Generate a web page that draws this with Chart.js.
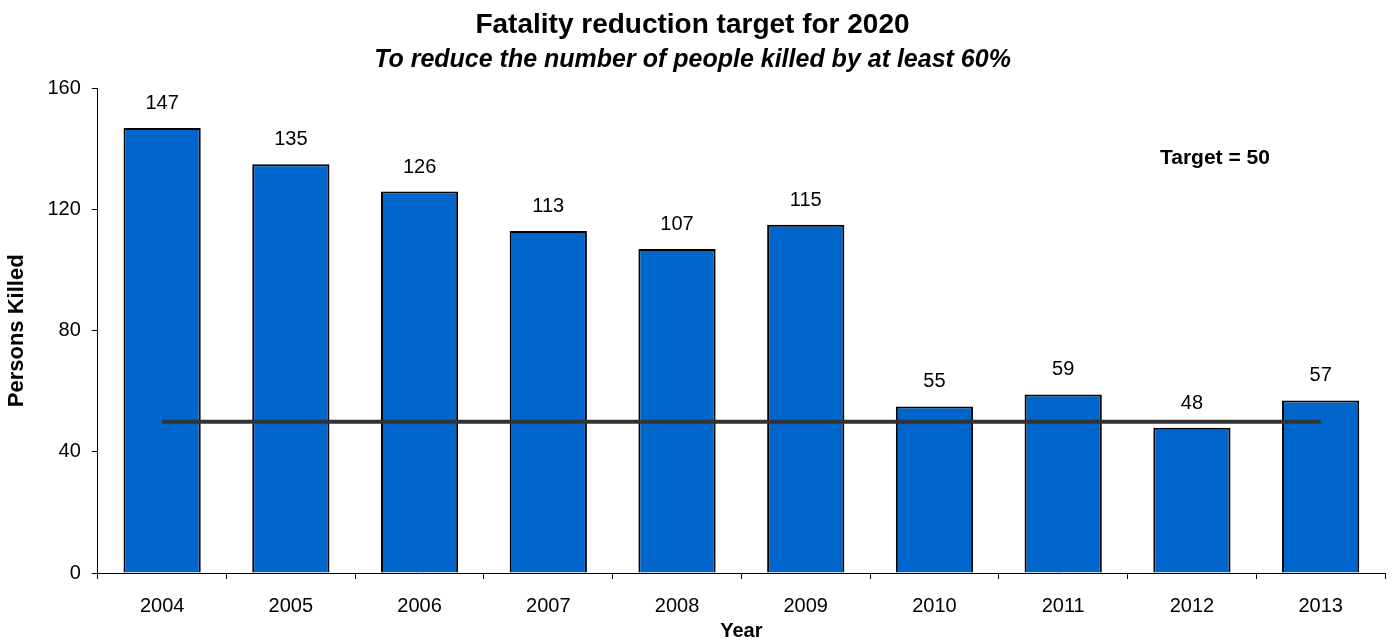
<!DOCTYPE html>
<html lang="en">
<head>
    <meta charset="UTF-8">
    <title>Fatality reduction target for 2020</title>
    <script src="https://cdn.jsdelivr.net/npm/chart.js"></script>
    <style>
        body {
            margin: 0;
            padding: 0;
            background: #ffffff;
            overflow: hidden;
        }
    </style>
</head>
<body>
    <canvas id="fatalityChart" width="1392" height="644"></canvas>

    <script>
        // Persons killed per year, and the 2020 target
        const years = ["2004", "2005", "2006", "2007", "2008", "2009", "2010", "2011", "2012", "2013"];
        const personsKilled = [147, 135, 126, 113, 107, 115, 55, 59, 48, 57];
        const targetValue = 50;
        const targetLine = years.map(() => targetValue);
        const yTicks = [0, 40, 80, 120, 160];

        const fontFamily = "'Liberation Sans', Arial, sans-serif";

        // Value labels above each bar
        const barLabels = {
            id: "barLabels",
            afterDatasetsDraw(chart) {
                const ctx = chart.ctx;
                const meta = chart.getDatasetMeta(0);
                ctx.save();
                ctx.font = "20px " + fontFamily;
                ctx.fillStyle = "#000";
                ctx.textAlign = "center";
                ctx.textBaseline = "alphabetic";
                meta.data.forEach((bar, i) => {
                    ctx.fillText(personsKilled[i], bar.x, bar.y - 19);
                });
                ctx.restore();
            }
        };

        // "Target = 50" note in the upper right
        const targetNote = {
            id: "targetNote",
            afterDraw(chart) {
                const ctx = chart.ctx;
                const x = chart.scales.x.getPixelForValue(8) + 23;
                const y = chart.scales.y.getPixelForValue(137);
                ctx.save();
                ctx.font = "bold 21px " + fontFamily;
                ctx.fillStyle = "#000";
                ctx.textAlign = "center";
                ctx.textBaseline = "middle";
                ctx.fillText("Target = " + targetValue, x, y);
                ctx.restore();
            }
        };

        const ctx = document.getElementById("fatalityChart").getContext("2d");
        new Chart(ctx, {
            type: "bar",
            data: {
                labels: years,
                datasets: [
                    {
                        type: "bar",
                        label: "Persons Killed",
                        data: personsKilled,
                        backgroundColor: "#0066CC",
                        borderColor: "#000",
                        borderWidth: 2,
                        barPercentage: 0.6,
                        categoryPercentage: 1,
                        order: 2
                    },
                    {
                        type: "line",
                        label: "Target",
                        data: targetLine,
                        borderColor: "#333333",
                        borderWidth: 4,
                        pointRadius: 0,
                        fill: false,
                        order: 1
                    }
                ]
            },
            options: {
                responsive: false,
                animation: false,
                layout: {
                    padding: { top: 0, right: 7, bottom: 0, left: 0 }
                },
                plugins: {
                    legend: { display: false },
                    tooltip: { enabled: false },
                    title: {
                        display: true,
                        text: "Fatality reduction target for 2020",
                        color: "#000",
                        font: { family: fontFamily, size: 28, weight: "bold" },
                        padding: { top: 8, bottom: 4 }
                    },
                    subtitle: {
                        display: true,
                        text: "To reduce the number of people killed by at least 60%",
                        color: "#000",
                        font: { family: fontFamily, size: 25, weight: "bold", style: "italic" },
                        padding: { top: 0, bottom: 13 }
                    }
                },
                scales: {
                    x: {
                        grid: {
                            display: true,
                            drawOnChartArea: false,
                            drawTicks: true,
                            tickLength: 6,
                            color: "#000"
                        },
                        border: { display: true, color: "#000", width: 1 },
                        ticks: {
                            color: "#000",
                            font: { family: fontFamily, size: 20 },
                            padding: 15
                        },
                        title: {
                            display: true,
                            text: "Year",
                            color: "#000",
                            font: { family: fontFamily, size: 20, weight: "bold" },
                            padding: { top: -14, bottom: 1 }
                        }
                    },
                    y: {
                        min: 0,
                        max: 160,
                        afterBuildTicks(axis) {
                            axis.ticks = yTicks.map(v => ({ value: v }));
                        },
                        grid: {
                            display: true,
                            drawOnChartArea: false,
                            drawTicks: true,
                            tickLength: 6,
                            color: "#000"
                        },
                        border: { display: true, color: "#000", width: 1 },
                        ticks: {
                            color: "#000",
                            font: { family: fontFamily, size: 20 },
                            padding: 11
                        },
                        title: {
                            display: true,
                            text: "Persons Killed",
                            color: "#000",
                            font: { family: fontFamily, size: 22, weight: "bold" },
                            padding: { top: 4, bottom: 6 }
                        }
                    }
                }
            },
            plugins: [barLabels, targetNote]
        });
    </script>
</body>
</html>
